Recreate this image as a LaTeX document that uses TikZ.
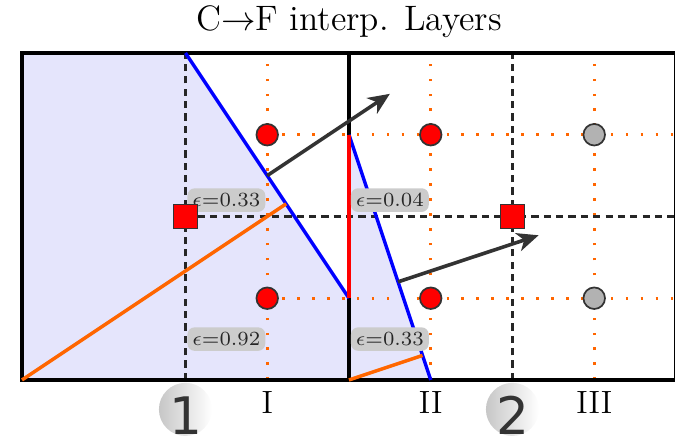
\documentclass[tikz,border=0pt]{standalone}
\usepackage{amsmath}
\usepackage{xcolor}
\usepackage{fontspec}
\newfontfamily\badgefont{DejaVu Sans}
\usetikzlibrary{arrows.meta}
\definecolor{cellfill}{RGB}{229,229,252}
\definecolor{cutorange}{RGB}{255,102,0}
\definecolor{normgray}{RGB}{51,51,51}

\begin{document}
\begin{tikzpicture}[
  font=\fontsize{11.2}{13}\selectfont, >={Stealth[length=7.5pt,width=6.5pt,inset=2.2pt]},
  grid/.style={cutorange, line width=0.9pt, dash pattern=on 0.9pt off 4.3pt},
  half/.style={black!85, line width=0.75pt, dash pattern=on 2.5pt off 1.8pt},
  cut/.style={line width=1.2pt},
  normal/.style={->, normgray, line width=1.25pt},
  eps/.style={fill=black!20, rounded corners=2.5pt, inner sep=1.7pt,
              font=\fontsize{7}{8}\selectfont, text=black!85},
  fine/.style={circle, draw=black!80, fill=red, minimum size=7.5pt,
               inner sep=0pt, line width=0.6pt},
  idle/.style={fine, fill=black!30},
  coarse/.style={draw=black!80, fill=red, minimum size=8.4pt,
                 inner sep=0pt, line width=0.6pt},
  badge/.style={circle, minimum size=0.65cm, inner sep=0pt,
                left color=black!22, right color=white},
  digit/.style={anchor=base, inner sep=0pt, text=black!80,
                font=\badgefont\fontsize{18}{20}\selectfont}]

\useasboundingbox (-0.269,-0.734) rectangle (7.988,4.648);

\coordinate (bl) at (0,0);
\coordinate (tr) at (8,4);
\coordinate (mb) at (4,0);
\coordinate (mt) at (4,4);
\coordinate (c1top) at (2,4);
\coordinate (c1kink) at (4,1);
\coordinate (c2top) at (4,3);
\coordinate (c2bot) at (5,0);
\coordinate (o1end) at (3.2308,2.1538);
\coordinate (o2end) at (4.9,0.3);

% covered region
\fill[cellfill] (bl) -- (0,4) -- (c1top) -- (c1kink) -- (c2top) -- (c2bot) -- cycle;

% fine grid
\foreach \x in {3,5,7}
  \draw[grid] (\x,0) -- (\x,4);
\foreach \y in {1,3}
  \draw[grid] (3,\y) -- (8,\y);

% coarse cell centres
\draw[half] (2,0) -- (2,4);
\draw[half] (6,0) -- (6,4);
\draw[half] (2,2) -- (8,2);

\draw[line width=1.3pt] (bl) rectangle (tr);
\draw[line width=1.3pt] (mb) -- (mt);

% interface pieces
\draw[cut, blue] (c1top) -- (c1kink);
\draw[cut, blue] (c2top) -- (c2bot);
\draw[cut, red] (c1kink) -- (c2top);
\draw[cut, cutorange] (bl) -- (o1end);
\draw[cut, cutorange] (mb) -- (o2end);

% normals
\coordinate (n1s) at (3,2.5);
\coordinate (n1e) at (4.5,3.5);
\coordinate (n2s) at (4.6,1.2);
\coordinate (n2e) at (6.32,1.77);
\draw[normal] (n1s) -- (n1e);
\draw[normal] (n2s) -- (n2e);

\node[eps] (e1) at (2.5,2.2) {$\epsilon$=0.33};
\node[eps] (e2) at (4.5,2.2) {$\epsilon$=0.04};
\node[eps] (e3) at (2.5,0.5) {$\epsilon$=0.92};
\node[eps] (e4) at (4.5,0.5) {$\epsilon$=0.33};

\node[fine] (f1) at (3,3) {};
\node[fine] (f2) at (3,1) {};
\node[fine] (f3) at (5,3) {};
\node[fine] (f4) at (5,1) {};
\node[idle] (f5) at (7,3) {};
\node[idle] (f6) at (7,1) {};
\node[coarse] (k1) at (2,2) {};
\node[coarse] (k2) at (6,2) {};

\node[font=\fontsize{12.3}{14}\selectfont] (title) at (4,4.38) {C$\to$F interp. Layers};
\node (lI) at (3,-0.275) {I};
\node (lII) at (5,-0.275) {II};
\node (lIII) at (7,-0.275) {III};

\node[badge] (b1) at (2,-0.36) {};
\node[badge] (b2) at (6,-0.36) {};
\node[digit] (d1) at (2,-0.673) {1};
\node[digit] (d2) at (6,-0.673) {2};
\end{tikzpicture}
\end{document}
